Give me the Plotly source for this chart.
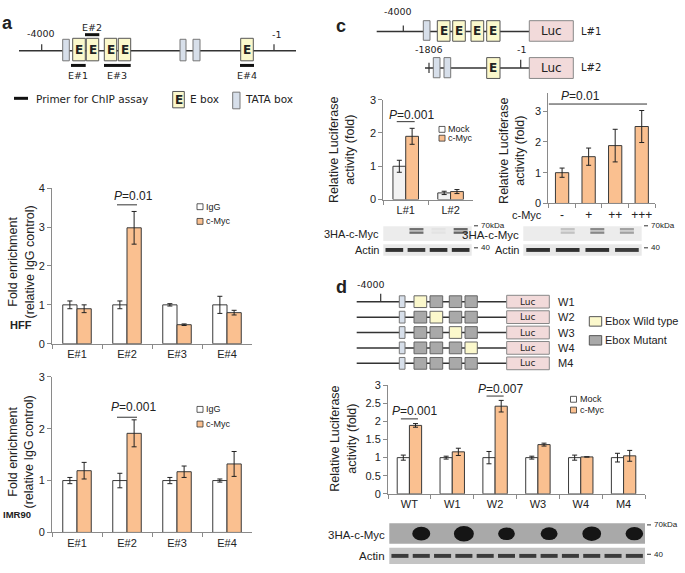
import plotly.graph_objects as go

W, H = 685, 573
def X(px): return px / W
def Y(py): return 1 - py / H

# ---------------- data ----------------
chip_sites = ["E#1", "E#2", "E#3", "E#4"]
hff_igg = [1.0, 1.0, 1.0, 1.0]
hff_igg_err = [0.10, 0.10, 0.03, 0.22]
hff_myc = [0.90, 2.98, 0.49, 0.80]
hff_myc_err = [0.10, 0.42, 0.02, 0.06]

imr_igg = [1.0, 1.0, 1.0, 1.0]
imr_igg_err = [0.06, 0.14, 0.06, 0.03]
imr_myc = [1.19, 1.91, 1.17, 1.32]
imr_myc_err = [0.16, 0.26, 0.11, 0.24]

luc_constructs = ["L#1", "L#2"]
luc_mock = [1.00, 0.20]
luc_mock_err = [0.18, 0.05]
luc_myc = [1.90, 0.24]
luc_myc_err = [0.24, 0.06]

dose_labels = ["-", "+", "++", "+++"]
dose_vals = [1.00, 1.52, 1.88, 2.50]
dose_err = [0.15, 0.28, 0.53, 0.52]

mut_constructs = ["WT", "W1", "W2", "W3", "W4", "M4"]
mut_mock = [1.0, 1.0, 1.0, 1.0, 1.0, 1.0]
mut_mock_err = [0.07, 0.04, 0.17, 0.04, 0.07, 0.12]
mut_myc = [1.89, 1.16, 2.42, 1.36, 1.02, 1.05]
mut_myc_err = [0.05, 0.10, 0.16, 0.04, 0.0, 0.15]

# diagram d: which E-box (0..3) is wild type in each construct
d_rows = ["W1", "W2", "W3", "W4", "M4"]
d_wild_box = [0, 1, 2, 3, None]

# blot band intensities (0..1)
blot_c1_myc = [0.0, 0.75, 0.05, 0.8]
blot_c1_actin = [0.95, 0.9, 0.95, 0.95]
blot_c2_myc = [0.0, 0.25, 0.6, 0.45]
blot_c2_actin = [0.95, 0.95, 0.95, 0.9]
blot_d_myc = [0, 0.75, 0, 1.0, 0, 0.6, 0, 0.62, 0, 0.85, 0, 0.7]
blot_d_actin = [0.9] * 12

# ---------------- style ----------------
ORANGE = "#fac090"
EDGE = "#3a3a3a"
AXC = "#8a8a8a"
TXT = "#222222"
ARIAL = "Liberation Sans, Arial"
ROUND = "DejaVu Sans"

fig = go.Figure()
shapes = []
ann = []

def rect(x0, y0, x1, y1, fill, line="#555", lw=1, kind="rect"):
    shapes.append(dict(type=kind, xref="paper", yref="paper",
                       x0=X(x0), x1=X(x1), y0=Y(y1), y1=Y(y0),
                       fillcolor=fill, line=dict(color=line, width=lw), layer="above"))

def hline(x0, x1, y, color="#333", lw=1.5):
    shapes.append(dict(type="line", xref="paper", yref="paper",
                       x0=X(x0), x1=X(x1), y0=Y(y), y1=Y(y),
                       line=dict(color=color, width=lw), layer="above"))

def vline(x, y0, y1, color="#333", lw=1.2):
    shapes.append(dict(type="line", xref="paper", yref="paper",
                       x0=X(x), x1=X(x), y0=Y(y0), y1=Y(y1),
                       line=dict(color=color, width=lw), layer="above"))

def txt(x, y, text, size=11, anchor="center", family=ARIAL, color=TXT, angle=0):
    ann.append(dict(x=X(x), y=Y(y), xref="paper", yref="paper", text=text,
                    showarrow=False, xanchor=anchor, yanchor="middle", borderpad=0,
                    textangle=angle, font=dict(size=size, family=family, color=color)))

def bars(x, y, err, fill, n, width=None):
    s = "" if n == 1 else str(n)
    fig.add_trace(go.Bar(x=x, y=y, width=width,
                         error_y=dict(type="data", array=err, color="#222", thickness=1, width=2.5),
                         marker=dict(color=fill, line=dict(color=EDGE, width=1)),
                         xaxis="x" + s, yaxis="y" + s, showlegend=False))

axes = {}
def add_axes(n, xpx, ypx, rng, dtick, cats, xfont=11):
    s = "" if n == 1 else str(n)
    axes["xaxis" + s] = dict(domain=[X(xpx[0]), X(xpx[1])], anchor="y" + s, type="category",
                             categoryorder="array", categoryarray=cats, tickson="boundaries",
                             ticks="outside", ticklen=4, tickcolor=AXC, showline=True, linecolor=AXC,
                             showgrid=False, zeroline=False, fixedrange=True, tickangle=0,
                             tickfont=dict(family=ARIAL, size=xfont, color=TXT))
    axes["yaxis" + s] = dict(domain=[Y(ypx[1]), Y(ypx[0])], anchor="x" + s, range=rng, dtick=dtick,
                             ticks="outside", ticklen=4, tickcolor=AXC, showline=True, linecolor=AXC,
                             showgrid=False, zeroline=False, fixedrange=True,
                             tickfont=dict(family=ARIAL, size=11, color=TXT))

def legend_sq(x, y, fill, label):
    rect(x - 3, y - 3, x + 3, y + 3, fill, line="#333", lw=0.8)
    txt(x + 5, y, label, size=9, anchor="left")

def pval(n, x0, x1, yline, ytext, label):
    s = "" if n == 1 else str(n)
    shapes.append(dict(type="line", xref="x" + s, yref="y" + s, x0=x0, x1=x1, y0=yline, y1=yline,
                       line=dict(color="#333", width=1)))
    if label:
        ann.append(dict(x=(x0 + x1) / 2 + 0.12, y=ytext, xref="x" + s, yref="y" + s, text=label,
                        showarrow=False, font=dict(family=ARIAL, size=12, color=TXT)))

def marker_label(x, y, label):
    hline(x, x + 4, y, color="#333", lw=1)
    txt(x + 6, y, label, size=8, anchor="left")

# ---------------- panel b ----------------
add_axes(1, (52, 252), (186, 345), [0, 4], 1, chip_sites)
bars(chip_sites, hff_igg, hff_igg_err, "white", 1)
bars(chip_sites, hff_myc, hff_myc_err, ORANGE, 1)
pval(1, 0.8, 1.2, 3.57, 3.80, "<i>P</i>=0.01")
legend_sq(200, 205, "white", "IgG")
legend_sq(200, 220, ORANGE, "c-Myc")
txt(21, 262, "Fold enrichment<br>(relative IgG control)", size=12.5, angle=-90)
txt(21, 326, "<b>HFF</b>", size=11)

add_axes(2, (52, 252), (378.7, 537.7), [0, 3], 1, chip_sites)
bars(chip_sites, imr_igg, imr_igg_err, "white", 2)
bars(chip_sites, imr_myc, imr_myc_err, ORANGE, 2)
pval(2, 0.8, 1.2, 2.22, 2.42, "<i>P</i>=0.001")
legend_sq(200, 412, "white", "IgG")
legend_sq(200, 427, ORANGE, "c-Myc")
txt(21, 456, "Fold enrichment<br>(relative IgG control)", size=12.5, angle=-90)
txt(17, 519, "<b>IMR90</b>", size=9.5)

# ---------------- panel c charts ----------------
add_axes(3, (383.3, 473), (95.7, 197.7), [0, 3], 1, luc_constructs)
bars(luc_constructs, luc_mock, luc_mock_err, "#f2f2f2", 3)
bars(luc_constructs, luc_myc, luc_myc_err, ORANGE, 3)
pval(3, -0.2, 0.2, 2.34, 2.55, "<i>P</i>=0.001")
legend_sq(442, 126, "white", "Mock")
legend_sq(442, 135, ORANGE, "c-Myc")
txt(342, 147, "Relative Luciferase<br>activity (fold)", size=12.5, angle=-90)

add_axes(4, (548.3, 655), (88.5, 201.7), [0, 3.6], 1, dose_labels, xfont=12)
bars(dose_labels, dose_vals, dose_err, ORANGE, 4, width=0.5)
pval(4, -0.5, 3.2, 3.23, 3.50, "")
ann.append(dict(x=-0.1, y=3.5, xref="x4", yref="y4", text="<i>P</i>=0.01", xanchor="left",
                showarrow=False, font=dict(family=ARIAL, size=12, color=TXT)))
txt(512, 148, "Relative Luciferase<br>activity (fold)", size=12.5, angle=-90)
txt(543, 213, "c-Myc", size=11, anchor="right")

# ---------------- panel d chart ----------------
add_axes(5, (388, 645), (387.3, 498.3), [0, 3], 0.5, mut_constructs)
bars(mut_constructs, mut_mock, mut_mock_err, "white", 5)
bars(mut_constructs, mut_myc, mut_myc_err, ORANGE, 5)
pval(5, -0.2, 0.2, 2.07, 2.28, "<i>P</i>=0.001")
pval(5, 1.8, 2.2, 2.70, 2.89, "<i>P</i>=0.007")
legend_sq(573.5, 401.7, "white", "Mock")
legend_sq(573.5, 412.7, ORANGE, "c-Myc")
txt(343, 442, "Relative Luciferase<br>activity (fold)", size=12.5, angle=-90)

# ---------------- panel a diagram ----------------
EFILL, ELINE = "#fbf8cc", "#555"
TFILL, TLINE = "#d7dfea", "#777"
LFILL, LLINE = "#f2dada", "#888"
txt(8, 17, "<b>a</b>", size=18)
hline(19, 296, 45.7, lw=1.5)
vline(41.7, 39, 45.7); txt(41, 28, "-4000", size=9.5, family=ROUND)
vline(274, 39, 45.7); txt(276, 29, "-1", size=9.5, family=ROUND)
for x0, x1 in [(62.7, 69.3), (180, 186), (193, 200)]:
    rect(x0, 34, x1, 56, TFILL, TLINE)
for x0, x1 in [(72.7, 85.3), (86.3, 98.7), (104.3, 116.7), (118.3, 130.7), (240.7, 253.3)]:
    rect(x0, 33, x1, 56, EFILL, ELINE)
    txt((x0 + x1) / 2, 45, "<b>E</b>", size=12, family=ROUND)
for (x0, x1, y, lab, ly) in [(85, 99.3, 29.3, "E#2", 22), (71, 85.7, 60.7, "E#1", 71),
                             (104, 130.7, 60.7, "E#3", 71), (240, 254, 60.7, "E#4", 71)]:
    hline(x0, x1, y, color="#111", lw=3)
    txt((x0 + x1) / 2, ly, lab, size=9.5, family=ROUND)
hline(14, 28, 94.3, color="#111", lw=3)
txt(35, 95, "Primer for ChIP assay", size=10.5, anchor="left", family=ROUND)
rect(172.7, 87.3, 184.3, 104, EFILL, ELINE)
txt(178.5, 96, "<b>E</b>", size=12, family=ROUND)
txt(189, 95, "E box", size=10.5, anchor="left", family=ROUND)
rect(232.7, 88, 240, 105, TFILL, TLINE)
txt(244, 95, "TATA box", size=10.5, anchor="left", family=ROUND)

# ---------------- panel c diagram ----------------
txt(341, 20, "<b>c</b>", size=18)
hline(376.7, 529.3, 26, lw=1.5)
vline(403.3, 20, 26); txt(398, 6, "-4000", size=9.5, family=ROUND)
rect(423.3, 15, 430, 35, TFILL, TLINE)
for x0, x1 in [(437.3, 450), (452.7, 465.3), (471, 483.7), (486.7, 500)]:
    rect(x0, 15, x1, 36, EFILL, ELINE)
    txt((x0 + x1) / 2, 26, "<b>E</b>", size=12, family=ROUND)
rect(529.3, 15, 573.3, 36, LFILL, LLINE)
txt(551.3, 26, "Luc", size=12, family=ROUND)
txt(580, 26, "L#1", size=10, anchor="left", family=ROUND)

hline(425, 529.3, 63.3, lw=1.5)
vline(429, 58, 68.5)
txt(429, 44, "-1806", size=9.5, family=ROUND)
for x0, x1 in [(433.3, 440), (444, 450.7)]:
    rect(x0, 52.7, x1, 73.3, TFILL, TLINE)
rect(486.7, 52.7, 500, 74, EFILL, ELINE)
txt(493.3, 63.5, "<b>E</b>", size=12, family=ROUND)
vline(520.7, 55, 63.3); txt(521, 44, "-1", size=9.5, family=ROUND)
rect(529.3, 52.7, 573.3, 74, LFILL, LLINE)
txt(551.3, 63.5, "Luc", size=12, family=ROUND)
txt(580, 63.3, "L#2", size=10, anchor="left", family=ROUND)

# ---------------- panel d diagram ----------------
txt(341, 287, "<b>d</b>", size=18)
txt(371, 284, "-4000", size=9.5, family=ROUND)
vline(380.7, 294, 302)
row_y = [302, 317.8, 333.5, 349.2, 365]
ebox_x = [(414, 426.7), (430, 442.7), (449.3, 461.7), (465, 477.3)]
for ry, lab, wi in zip(row_y, d_rows, d_wild_box):
    hline(356.7, 506.7, ry, lw=1.5)
    rect(399.3, ry - 6, 405, ry + 6, TFILL, TLINE)
    for k, (x0, x1) in enumerate(ebox_x):
        rect(x0, ry - 6, x1, ry + 6, EFILL if k == wi else "#a9a9a9", "#666")
    rect(506.7, ry - 6.5, 549.3, ry + 6.5, LFILL, LLINE)
    txt(528, ry, "Luc", size=9, family=ROUND)
    txt(557, ry, lab, size=11, anchor="left")
rect(589.3, 317.3, 601.7, 327, EFILL, "#555")
txt(604, 322, "Ebox Wild type", size=11, anchor="left")
rect(589.3, 336.7, 601.7, 346.3, "#a9a9a9", "#555")
txt(604, 341.5, "Ebox Mutant", size=11, anchor="left")

# ---------------- blots ----------------
def gray(i, lo=235, hi=40):
    v = int(lo - i * (lo - hi))
    return "rgb(%d,%d,%d)" % (v, v, v)

def blot_double(x0, x1, y0, y1, vals):
    rect(x0, y0, x1, y1, "#ececec", line="#ececec", lw=0)
    lw_ = (x1 - x0) / len(vals)
    for i, v in enumerate(vals):
        if v <= 0.02:
            continue
        cx = x0 + lw_ * (i + 0.5)
        for yy in (y0 + 3, y0 + 6.5):
            rect(cx - 7, yy - 1.2, cx + 7, yy + 1.2, gray(v, 236, 70), line=gray(v, 236, 70), lw=0)

def blot_actin(x0, x1, y0, y1, vals, bg="#e8e8e8"):
    rect(x0, y0, x1, y1, bg, line=bg, lw=0)
    lw_ = (x1 - x0) / len(vals)
    cy = (y0 + y1) / 2
    for i, v in enumerate(vals):
        cx = x0 + lw_ * (i + 0.5)
        rect(cx - lw_ * 0.4, cy - 2, cx + lw_ * 0.4, cy + 2, gray(v), line=gray(v), lw=0)

blot_double(383.3, 471.7, 225, 240, blot_c1_myc)
blot_actin(383.3, 471.7, 243.3, 255, blot_c1_actin)
txt(380, 233, "3HA-c-Myc", size=11, anchor="right")
txt(380, 249, "Actin", size=11, anchor="right")
marker_label(474, 224.5, "70kDa")
marker_label(474, 247, "40")

blot_double(523.3, 641.7, 225, 240, blot_c2_myc)
blot_actin(523.3, 641.7, 243.3, 255, blot_c2_actin)
txt(520, 233.5, "3HA-c-Myc", size=11.5, anchor="right")
txt(520, 249, "Actin", size=11, anchor="right")
marker_label(644, 224.5, "70kDa")
marker_label(644, 247, "40")

# panel d blot
x0d, x1d = 389.3, 645
rect(x0d, 528.3, x1d, 549.3, "#a9a9a9", line="#a9a9a9", lw=0)
lw_d = (x1d - x0d) / len(blot_d_myc)
for i, v in enumerate(blot_d_myc):
    if v <= 0.02:
        continue
    cx = x0d + lw_d * (i + 0.5)
    w = 12 + 8 * v
    h = 8 + 8 * v
    rect(cx - w / 2, 539 - h / 2, cx + w / 2, 539 + h / 2, "#151515", line="#151515", lw=0, kind="circle")
blot_actin(x0d, x1d, 553.3, 570, blot_d_actin, bg="#c4c4c4")
txt(386, 540, "3HA-c-Myc", size=11.5, anchor="right")
txt(386, 562, "Actin", size=11.5, anchor="right")
marker_label(647, 530, "70kDa")
marker_label(647, 560, "40")

fig.update_layout(width=W, height=H, margin=dict(l=0, r=0, t=0, b=0),
                  paper_bgcolor="white", plot_bgcolor="white",
                  barmode="group", bargap=0.43, bargroupgap=0,
                  shapes=shapes, annotations=ann, showlegend=False, **axes)
fig.write_html("out.html", config={"displayModeBar": False},
               post_script="document.body.style.margin='0px';document.body.style.overflow='hidden';")
